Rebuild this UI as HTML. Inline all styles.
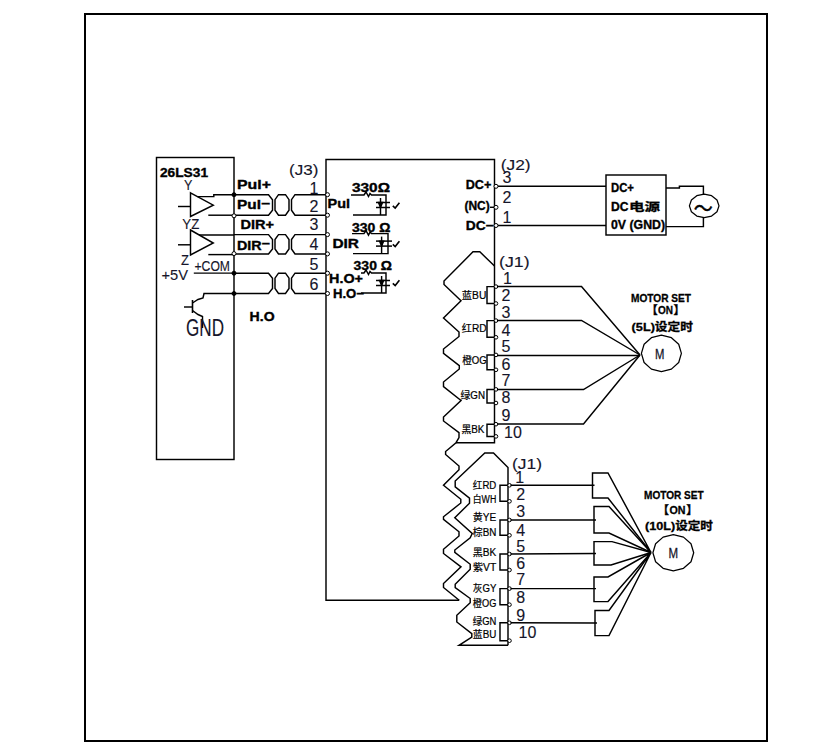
<!DOCTYPE html>
<html lang="zh"><head><meta charset="utf-8"><title>Wiring diagram</title>
<style>
html,body{margin:0;padding:0;background:#fff;}
body{width:840px;height:750px;overflow:hidden;}
svg{display:block;font-family:"Liberation Sans","Noto Sans CJK SC",sans-serif;}
</style></head><body>
<svg width="840" height="750" viewBox="0 0 840 750" fill="none" stroke="#000" stroke-linejoin="miter" stroke-linecap="butt">
<rect x="0" y="0" width="840" height="750" fill="#fff" stroke="none"/>
<rect x="85" y="14" width="682" height="727" stroke-width="2"/>
<rect x="156.5" y="157.5" width="77.5" height="302" stroke-width="1.45"/>
<path d="M459.2,600.2 L326,600.2 L326,159.5 L494.5,159.5 L494.5,442.7 L456,442.7" stroke-width="1.45" />
<path d="M494.5,266 L479.8,251.8 L473,251.8 L444,281 L444,284.5 L461,300.7 L443.5,318 L459,332 L459,336.5 L443.5,349 L443.5,353.3 L459.3,365.6 L459.3,369 L443.5,382 L443.5,386.6 L461,400.5 L443.5,417 L443.5,421 L459,432.7 L459,437.5 L456,442.7 L445.6,451.5 L445.6,454.5 L459,466 L459,469.7 L443.5,485.2 L460.8,499.3 L460.8,503 L443.5,516.8 L443.5,519.3 L459,531.8 L459,536 L443.5,549.3 L443.5,553.5 L461,566.8 L443.5,583.5 L443.5,587.5 L459.2,600.2" stroke-width="1.45" />
<path d="M508,645.3 L508,467.5 L493.5,453 L484.8,453 L455.2,481 L455.2,486.8 L469.5,498.2 L469.5,503.2 L454.8,517.7 L472.2,533.5 L470.2,537.7 L454.8,550 L454.8,552.3 L470.2,564.3 L470.2,569.3 L455.2,584.3 L455.2,587.7 L470.2,598.5 L470.2,602.8 L456.8,615.3 L456.8,622 L471.8,633.7 L471.8,637 L459,645.3 L508,645.3" stroke-width="1.45" />
<path d="M190.5,192.8 L213.3,205.2 L190.5,216.5 Z" stroke-width="1.45" />
<path d="M190.5,230 L213.3,243 L190.5,255 Z" stroke-width="1.45" />
<path d="M178,206.5 L190.5,206.5" stroke-width="1.45" />
<path d="M178,244.8 L190.5,244.8" stroke-width="1.45" />
<path d="M197.5,196.6 L213.8,196.6 L213.8,194.7 L234,194.7" stroke-width="1.45" />
<path d="M208.3,215.2 L234,215.2" stroke-width="1.45" />
<path d="M199,235 L234,235" stroke-width="1.45" />
<path d="M208.3,254.6 L234,254.6" stroke-width="1.45" />
<path d="M193.8,273.1 L234,273.1" stroke-width="1.45" />
<path d="M234,293.5 L204,293.5 L203,298 L198,299.5 L192.5,303" stroke-width="1.45" />
<path d="M192.5,300 L192.5,313" stroke-width="1.6" />
<path d="M184,307 L192.5,307" stroke-width="1.45" />
<path d="M192.5,310.5 L198,314.5 L202.5,316.5 L202.5,328" stroke-width="1.45" />
<path d="M234,194.7 L268.5,194.7 L272.5,199.7 L272.5,210.2 L268.5,215.2 L234,215.2" stroke-width="1.45" />
<path d="M278.5,194.7 L285.5,194.7 L289,199.7 L289,210.2 L285.5,215.2 L278.5,215.2 L275,210.2 L275,199.7 Z" stroke-width="1.45" />
<path d="M326,194.7 L295,194.7 L291.5,199.7 L291.5,210.2 L295,215.2 L326,215.2" stroke-width="1.45" />
<path d="M234,234.6 L268.5,234.6 L272.5,239.6 L272.5,248.9 L268.5,253.9 L234,253.9" stroke-width="1.45" />
<path d="M278.5,234.6 L285.5,234.6 L289,239.6 L289,248.9 L285.5,253.9 L278.5,253.9 L275,248.9 L275,239.6 Z" stroke-width="1.45" />
<path d="M326,234.6 L295,234.6 L291.5,239.6 L291.5,248.9 L295,253.9 L326,253.9" stroke-width="1.45" />
<path d="M234,273.2 L268.5,273.2 L272.5,278.2 L272.5,288.5 L268.5,293.5 L234,293.5" stroke-width="1.45" />
<path d="M278.5,273.2 L285.5,273.2 L289,278.2 L289,288.5 L285.5,293.5 L278.5,293.5 L275,288.5 L275,278.2 Z" stroke-width="1.45" />
<path d="M326,273.2 L295,273.2 L291.5,278.2 L291.5,288.5 L295,293.5 L326,293.5" stroke-width="1.45" />
<circle cx="234" cy="194.7" r="2" fill="#000" stroke-width="1"/>
<circle cx="234" cy="215.8" r="2" fill="#fff" stroke-width="1"/>
<circle cx="234" cy="253.6" r="2" fill="#fff" stroke-width="1"/>
<circle cx="234" cy="273.2" r="2" fill="#000" stroke-width="1"/>
<circle cx="234" cy="293.5" r="2" fill="#000" stroke-width="1"/>
<circle cx="327.5" cy="194.7" r="2" fill="#fff" stroke-width="1"/>
<circle cx="327.5" cy="215.2" r="2" fill="#fff" stroke-width="1"/>
<circle cx="327.5" cy="234.6" r="2" fill="#fff" stroke-width="1"/>
<circle cx="327.5" cy="253.9" r="2" fill="#fff" stroke-width="1"/>
<circle cx="327.5" cy="273.2" r="2" fill="#fff" stroke-width="1"/>
<circle cx="327.5" cy="293.5" r="2" fill="#fff" stroke-width="1"/>
<path d="M351,195 L364,195 L366,192 L368.5,196.5 L370,193.5 L371.5,195 L386,195 L386,215 L353,215" stroke-width="1.45" />
<path d="M380.5,198 L380.5,215" stroke-width="1.45" />
<path d="M376,202.5 L390,202.5" stroke-width="1.5" />
<path d="M376,207.5 L390,207.5" stroke-width="1.5" />
<path d="M378.5,202.5 L382.5,202.5 L380.5,207.5 Z" stroke-width="1.45" fill="#000"/>
<path d="M392.8,205.8 L395.2,208 L399.4,202.8" stroke-width="1.6" />
<path d="M352,233.6 L364,233.6 L366,230.6 L368.5,235.1 L370,232.1 L371.5,233.6 L388,233.6 L388,253.6 L353,253.6" stroke-width="1.45" />
<path d="M381.6,236.6 L381.6,253.6" stroke-width="1.45" />
<path d="M376,241.1 L392,241.1" stroke-width="1.5" />
<path d="M376,246.1 L392,246.1" stroke-width="1.5" />
<path d="M379.6,241.1 L383.6,241.1 L381.6,246.1 Z" stroke-width="1.45" fill="#000"/>
<path d="M392.8,244.3 L395.2,246.5 L399.4,241.3" stroke-width="1.6" />
<path d="M361,273 L364,273 L366,270 L368.5,274.5 L370,271.5 L371.5,273 L386,273 L386,293 L361,293" stroke-width="1.45" />
<path d="M381.6,276 L381.6,293" stroke-width="1.45" />
<path d="M376,280.5 L390,280.5" stroke-width="1.5" />
<path d="M376,285.5 L390,285.5" stroke-width="1.5" />
<path d="M379.6,280.5 L383.6,280.5 L381.6,285.5 Z" stroke-width="1.45" fill="#000"/>
<path d="M392.8,283.3 L395.2,285.5 L399.4,280.3" stroke-width="1.6" />
<path d="M496,186.3 L606,186.3" stroke-width="1.45" />
<path d="M496,225.5 L606,225.5" stroke-width="1.45" />
<rect x="606" y="175" width="60" height="60" stroke-width="1.45"/>
<path d="M666,188 L679.4,188 L679.4,186.2 L703.4,186.2 L703.4,194.5" stroke-width="1.45" />
<path d="M666,226.6 L703.4,226.6 L703.4,217.5" stroke-width="1.45" />
<path d="M704.2,194.1 L711.6,195.7 L717.0,200.0 L719.0,205.9 L717.0,211.8 L711.6,216.1 L704.2,217.7 L696.8,216.1 L691.4,211.8 L689.4,205.9 L691.4,200.0 L696.8,195.7 Z" stroke-width="1.25" stroke-linejoin="round"/>
<circle cx="496" cy="186.3" r="2" fill="#fff" stroke-width="1"/>
<circle cx="496" cy="207.3" r="2" fill="#fff" stroke-width="1"/>
<circle cx="496" cy="225.5" r="2" fill="#fff" stroke-width="1"/>
<path d="M490,207.3 L494,207.3" stroke-width="1.45" />
<path d="M494.5,286.6 L487,286.6 L487,303.5 L494.5,303.5" stroke-width="1.45" />
<circle cx="496" cy="286.6" r="1.8" fill="#fff" stroke-width="1"/>
<circle cx="496" cy="303.5" r="1.8" fill="#fff" stroke-width="1"/>
<path d="M494.5,320.6 L487,320.6 L487,337.3 L494.5,337.3" stroke-width="1.45" />
<circle cx="496" cy="320.6" r="1.8" fill="#fff" stroke-width="1"/>
<circle cx="496" cy="337.3" r="1.8" fill="#fff" stroke-width="1"/>
<path d="M494.5,354.9 L487,354.9 L487,369.8 L494.5,369.8" stroke-width="1.45" />
<circle cx="496" cy="354.9" r="1.8" fill="#fff" stroke-width="1"/>
<circle cx="496" cy="369.8" r="1.8" fill="#fff" stroke-width="1"/>
<path d="M494.5,389.4 L487,389.4 L487,403 L494.5,403" stroke-width="1.45" />
<circle cx="496" cy="389.4" r="1.8" fill="#fff" stroke-width="1"/>
<circle cx="496" cy="403" r="1.8" fill="#fff" stroke-width="1"/>
<path d="M494.5,424.2 L487,424.2 L487,436.4 L494.5,436.4" stroke-width="1.45" />
<circle cx="496" cy="424.2" r="1.8" fill="#fff" stroke-width="1"/>
<circle cx="496" cy="436.4" r="1.8" fill="#fff" stroke-width="1"/>
<path d="M497,286.5 L581.5,286.5 L640,355" stroke-width="1.45" />
<path d="M497,320.5 L581.5,320.5 L640,355" stroke-width="1.45" />
<path d="M497,355.5 L640,355.5" stroke-width="1.45" />
<path d="M497,389.5 L583.5,389.5 L640,355" stroke-width="1.45" />
<path d="M497,424 L583.5,424 L640,355" stroke-width="1.45" />
<path d="M661.4,335.2 L671.4,337.7 L678.7,344.3 L681.4,353.4 L678.7,362.5 L671.4,369.1 L661.4,371.6 L651.4,369.1 L644.1,362.5 L641.4,353.4 L644.1,344.3 L651.4,337.7 Z" stroke-width="1.25" stroke-linejoin="round"/>
<path d="M508,485.3 L500,485.3 L500,501.3 L508,501.3" stroke-width="1.45" />
<circle cx="509.5" cy="485.3" r="1.8" fill="#fff" stroke-width="1"/>
<circle cx="509.5" cy="501.3" r="1.8" fill="#fff" stroke-width="1"/>
<path d="M508,520 L500,520 L500,535.3 L508,535.3" stroke-width="1.45" />
<circle cx="509.5" cy="520" r="1.8" fill="#fff" stroke-width="1"/>
<circle cx="509.5" cy="535.3" r="1.8" fill="#fff" stroke-width="1"/>
<path d="M508,554 L500,554 L500,570 L508,570" stroke-width="1.45" />
<circle cx="509.5" cy="554" r="1.8" fill="#fff" stroke-width="1"/>
<circle cx="509.5" cy="570" r="1.8" fill="#fff" stroke-width="1"/>
<path d="M508,588.6 L500,588.6 L500,604.7 L508,604.7" stroke-width="1.45" />
<circle cx="509.5" cy="588.6" r="1.8" fill="#fff" stroke-width="1"/>
<circle cx="509.5" cy="604.7" r="1.8" fill="#fff" stroke-width="1"/>
<path d="M508,622.8 L500,622.8 L500,640.7 L508,640.7" stroke-width="1.45" />
<circle cx="509.5" cy="622.8" r="1.8" fill="#fff" stroke-width="1"/>
<circle cx="509.5" cy="640.7" r="1.8" fill="#fff" stroke-width="1"/>
<path d="M510.5,485.3 L594.5,485.3" stroke-width="1.45" />
<path d="M651,552.5 L608,473 L592.5,473 L592.5,498 L608,498 L651,552.5" stroke-width="1.45" />
<path d="M510.5,520 L596,520" stroke-width="1.45" />
<path d="M651,552.5 L609,506.5 L594,506.5 L594,533 L609,533 L651,552.5" stroke-width="1.45" />
<path d="M510.5,554 L596,553.5" stroke-width="1.45" />
<path d="M651,552.5 L612,541.6 L594,541.6 L594,565 L611,565 L651,552.5" stroke-width="1.45" />
<path d="M510.5,588.6 L596,588.6" stroke-width="1.45" />
<path d="M651,552.5 L608,577 L594,577 L594,601.6 L608,601.6 L651,552.5" stroke-width="1.45" />
<path d="M510.5,622.8 L597,623" stroke-width="1.45" />
<path d="M651,552.5 L609,610.4 L595,610.4 L595,635.6 L609,635.6 L651,552.5" stroke-width="1.45" />
<path d="M673.3,534.6 L683.5,537.1 L691.0,543.7 L693.7,552.7 L691.0,561.7 L683.5,568.3 L673.3,570.8 L663.1,568.3 L655.6,561.7 L652.9,552.7 L655.6,543.7 L663.1,537.1 Z" stroke-width="1.25" stroke-linejoin="round"/>
<g stroke="none">
<text x="160" y="177" font-size="12.5" font-weight="bold" textLength="48" lengthAdjust="spacingAndGlyphs" fill="#000" stroke="#000" stroke-width="0.35">26LS31</text>
<text x="237" y="189" font-size="12.5" font-weight="bold" textLength="34" lengthAdjust="spacingAndGlyphs" fill="#000" stroke="#000" stroke-width="0.35">Pul+</text>
<text x="237" y="209" font-size="12.5" font-weight="bold" textLength="33" lengthAdjust="spacingAndGlyphs" fill="#000" stroke="#000" stroke-width="0.35">Pul<tspan dy="-1.5">−</tspan></text>
<text x="240.4" y="229" font-size="12.5" font-weight="bold" textLength="33.6" lengthAdjust="spacingAndGlyphs" fill="#000" stroke="#000" stroke-width="0.35">DIR+</text>
<text x="237" y="249.6" font-size="12.5" font-weight="bold" textLength="33" lengthAdjust="spacingAndGlyphs" fill="#000" stroke="#000" stroke-width="0.35">DIR<tspan dy="-1.5">−</tspan></text>
<text x="249.6" y="321" font-size="12.5" font-weight="bold" textLength="25" lengthAdjust="spacingAndGlyphs" fill="#000" stroke="#000" stroke-width="0.35">H.O</text>
<text x="352" y="192.4" font-size="12.5" font-weight="bold" textLength="38" lengthAdjust="spacingAndGlyphs" fill="#000" stroke="#000" stroke-width="0.35">330Ω</text>
<text x="352" y="232" font-size="12.5" font-weight="bold" textLength="38.4" lengthAdjust="spacingAndGlyphs" fill="#000" stroke="#000" stroke-width="0.35">330 Ω</text>
<text x="353.6" y="270" font-size="12.5" font-weight="bold" textLength="38.4" lengthAdjust="spacingAndGlyphs" fill="#000" stroke="#000" stroke-width="0.35">330 Ω</text>
<text x="327.5" y="208" font-size="12.5" font-weight="bold" textLength="22.5" lengthAdjust="spacingAndGlyphs" fill="#000" stroke="#000" stroke-width="0.35">Pul</text>
<text x="332.4" y="247.6" font-size="12.5" font-weight="bold" textLength="26.6" lengthAdjust="spacingAndGlyphs" fill="#000" stroke="#000" stroke-width="0.35">DIR</text>
<text x="329" y="283" font-size="12.5" font-weight="bold" textLength="34" lengthAdjust="spacingAndGlyphs" fill="#000" stroke="#000" stroke-width="0.35">H.O+</text>
<text x="333" y="298" font-size="12.5" font-weight="bold" textLength="31" lengthAdjust="spacingAndGlyphs" fill="#000" stroke="#000" stroke-width="0.35">H.O−</text>
<text x="465.7" y="188.7" font-size="12.5" font-weight="bold" textLength="25.6" lengthAdjust="spacingAndGlyphs" fill="#000" stroke="#000" stroke-width="0.35">DC+</text>
<text x="464.4" y="210" font-size="12.5" font-weight="bold" textLength="25.3" lengthAdjust="spacingAndGlyphs" fill="#000" stroke="#000" stroke-width="0.35">(NC)</text>
<text x="465.7" y="230.4" font-size="12.5" font-weight="bold" textLength="28" lengthAdjust="spacingAndGlyphs" fill="#000" stroke="#000" stroke-width="0.35">DC−</text>
<text x="611" y="192" font-size="12.5" font-weight="bold" textLength="23" lengthAdjust="spacingAndGlyphs" fill="#000" stroke="#000" stroke-width="0.35">DC+</text>
<text x="611" y="210.5" font-size="12.5" font-weight="bold" textLength="17.5" lengthAdjust="spacingAndGlyphs" fill="#000" stroke="#000" stroke-width="0.35">DC</text>
<text x="629" y="210.6" font-size="11" font-weight="bold" textLength="31" lengthAdjust="spacingAndGlyphs" fill="#000" stroke="#000" stroke-width="0.3">电源</text>
<text x="611" y="229" font-size="12.5" font-weight="bold" textLength="54" lengthAdjust="spacingAndGlyphs" fill="#000" stroke="#000" stroke-width="0.35">0V (GND)</text>
<text x="631" y="301.6" font-size="11.5" font-weight="bold" textLength="60" lengthAdjust="spacingAndGlyphs" fill="#000" stroke="#000" stroke-width="0.3">MOTOR SET</text>
<text x="646.3" y="313.5" font-size="11.5" font-weight="bold" fill="#000" stroke="#000" stroke-width="0.3">【</text>
<text x="658" y="313.5" font-size="11.5" font-weight="bold" textLength="15" lengthAdjust="spacingAndGlyphs" fill="#000" stroke="#000" stroke-width="0.3">ON</text>
<text x="673.6" y="313.5" font-size="11.5" font-weight="bold" fill="#000" stroke="#000" stroke-width="0.3">】</text>
<text x="631.6" y="330.5" font-size="11.5" font-weight="bold" textLength="61.4" lengthAdjust="spacingAndGlyphs" fill="#000" stroke="#000" stroke-width="0.3">(5L)设定时</text>
<text x="644" y="499" font-size="11.5" font-weight="bold" textLength="59.6" lengthAdjust="spacingAndGlyphs" fill="#000" stroke="#000" stroke-width="0.3">MOTOR SET</text>
<text x="657.5" y="513.5" font-size="11.5" font-weight="bold" fill="#000" stroke="#000" stroke-width="0.3">【</text>
<text x="669.5" y="513.5" font-size="11.5" font-weight="bold" textLength="16" lengthAdjust="spacingAndGlyphs" fill="#000" stroke="#000" stroke-width="0.3">ON</text>
<text x="686.3" y="513.5" font-size="11.5" font-weight="bold" fill="#000" stroke="#000" stroke-width="0.3">】</text>
<text x="645" y="530" font-size="11.5" font-weight="bold" textLength="68" lengthAdjust="spacingAndGlyphs" fill="#000" stroke="#000" stroke-width="0.3">(10L)设定时</text>
<text transform="matrix(1 0 0 1.15 693.7 215.5)" x="0" y="0" font-size="19" font-family="Noto Sans CJK SC" fill="#000" stroke="#000" stroke-width="0.45">～</text>
<text x="184" y="190" font-size="14.5" textLength="8.4" lengthAdjust="spacingAndGlyphs" fill="#15152a" stroke="#15152a" stroke-width="0.12">Y</text>
<text x="182.3" y="229" font-size="15.3" textLength="17" lengthAdjust="spacingAndGlyphs" fill="#15152a" stroke="#15152a" stroke-width="0.12">YZ</text>
<text x="181" y="265.3" font-size="15" textLength="8" lengthAdjust="spacingAndGlyphs" fill="#15152a" stroke="#15152a" stroke-width="0.12">Z</text>
<text x="161.5" y="279.6" font-size="15" textLength="26.5" lengthAdjust="spacingAndGlyphs" fill="#15152a" stroke="#15152a" stroke-width="0.12">+5V</text>
<text x="194.5" y="270.6" font-size="15.2" textLength="35.5" lengthAdjust="spacingAndGlyphs" fill="#15152a" stroke="#15152a" stroke-width="0.12">+COM</text>
<text x="186" y="336.4" font-size="23.5" textLength="38" lengthAdjust="spacingAndGlyphs" fill="#15152a" stroke="#15152a" stroke-width="0.12">GND</text>
<text x="289" y="174.6" font-size="15" textLength="29.4" lengthAdjust="spacingAndGlyphs" fill="#15152a" stroke="#15152a" stroke-width="0.12">(J3)</text>
<text x="309.5" y="193.75" font-size="16" fill="#15152a" stroke="#15152a" stroke-width="0.12">1</text>
<text x="309.5" y="211.6" font-size="16" fill="#15152a" stroke="#15152a" stroke-width="0.12">2</text>
<text x="309.5" y="230.4" font-size="16" fill="#15152a" stroke="#15152a" stroke-width="0.12">3</text>
<text x="309.5" y="250" font-size="16" fill="#15152a" stroke="#15152a" stroke-width="0.12">4</text>
<text x="309.5" y="270.4" font-size="16" fill="#15152a" stroke="#15152a" stroke-width="0.12">5</text>
<text x="309.5" y="290.4" font-size="16" fill="#15152a" stroke="#15152a" stroke-width="0.12">6</text>
<text x="500.7" y="170" font-size="15" textLength="30" lengthAdjust="spacingAndGlyphs" fill="#15152a" stroke="#15152a" stroke-width="0.12">(J2)</text>
<text x="502.5" y="183.3" font-size="16" fill="#15152a" stroke="#15152a" stroke-width="0.12">3</text>
<text x="502.5" y="203.3" font-size="16" fill="#15152a" stroke="#15152a" stroke-width="0.12">2</text>
<text x="502.5" y="223.3" font-size="16" fill="#15152a" stroke="#15152a" stroke-width="0.12">1</text>
<text x="499" y="267" font-size="15" textLength="30.6" lengthAdjust="spacingAndGlyphs" fill="#15152a" stroke="#15152a" stroke-width="0.12">(J1)</text>
<text x="503" y="284" font-size="16" fill="#15152a" stroke="#15152a" stroke-width="0.12">1</text>
<text x="501.5" y="301" font-size="16" fill="#15152a" stroke="#15152a" stroke-width="0.12">2</text>
<text x="501.5" y="318" font-size="16" fill="#15152a" stroke="#15152a" stroke-width="0.12">3</text>
<text x="501.5" y="335.6" font-size="16" fill="#15152a" stroke="#15152a" stroke-width="0.12">4</text>
<text x="501.5" y="352.4" font-size="16" fill="#15152a" stroke="#15152a" stroke-width="0.12">5</text>
<text x="501.5" y="369.6" font-size="16" fill="#15152a" stroke="#15152a" stroke-width="0.12">6</text>
<text x="501.5" y="386" font-size="16" fill="#15152a" stroke="#15152a" stroke-width="0.12">7</text>
<text x="501.5" y="403" font-size="16" fill="#15152a" stroke="#15152a" stroke-width="0.12">8</text>
<text x="501.5" y="421" font-size="16" fill="#15152a" stroke="#15152a" stroke-width="0.12">9</text>
<text x="504" y="438" font-size="16" fill="#15152a" stroke="#15152a" stroke-width="0.12">10</text>
<text x="512" y="469" font-size="15" textLength="30" lengthAdjust="spacingAndGlyphs" fill="#15152a" stroke="#15152a" stroke-width="0.12">(J1)</text>
<text x="515.2" y="483.3" font-size="16" fill="#15152a" stroke="#15152a" stroke-width="0.12">1</text>
<text x="516.2" y="500" font-size="16" fill="#15152a" stroke="#15152a" stroke-width="0.12">2</text>
<text x="516.2" y="517.3" font-size="16" fill="#15152a" stroke="#15152a" stroke-width="0.12">3</text>
<text x="516.2" y="536" font-size="16" fill="#15152a" stroke="#15152a" stroke-width="0.12">4</text>
<text x="516.2" y="552" font-size="16" fill="#15152a" stroke="#15152a" stroke-width="0.12">5</text>
<text x="516.2" y="568.7" font-size="16" fill="#15152a" stroke="#15152a" stroke-width="0.12">6</text>
<text x="516.2" y="585.3" font-size="16" fill="#15152a" stroke="#15152a" stroke-width="0.12">7</text>
<text x="516.2" y="602.7" font-size="16" fill="#15152a" stroke="#15152a" stroke-width="0.12">8</text>
<text x="516.2" y="620.7" font-size="16" fill="#15152a" stroke="#15152a" stroke-width="0.12">9</text>
<text x="518.5" y="638" font-size="16" fill="#15152a" stroke="#15152a" stroke-width="0.12">10</text>
<text x="655" y="359.3" font-size="15" textLength="9.4" lengthAdjust="spacingAndGlyphs" fill="#15152a" stroke="#15152a" stroke-width="0.3">M</text>
<text x="668.4" y="557.6" font-size="15.5" textLength="9.6" lengthAdjust="spacingAndGlyphs" fill="#15152a" stroke="#15152a" stroke-width="0.3">M</text>
<text x="461.8" y="298.6" font-size="10" textLength="24.5" lengthAdjust="spacingAndGlyphs" fill="#000" stroke="#000" stroke-width="0.2">蓝BU</text>
<text x="461.8" y="331.6" font-size="10" textLength="24.8" lengthAdjust="spacingAndGlyphs" fill="#000" stroke="#000" stroke-width="0.2">红RD</text>
<text x="462.2" y="363.6" font-size="10" textLength="24.5" lengthAdjust="spacingAndGlyphs" fill="#000" stroke="#000" stroke-width="0.2">橙OG</text>
<text x="460.5" y="399.2" font-size="10" textLength="24.5" lengthAdjust="spacingAndGlyphs" fill="#000" stroke="#000" stroke-width="0.2">绿GN</text>
<text x="461.4" y="433.2" font-size="10" textLength="23" lengthAdjust="spacingAndGlyphs" fill="#000" stroke="#000" stroke-width="0.2">黑BK</text>
<text x="472.8" y="488.8" font-size="10" textLength="23.5" lengthAdjust="spacingAndGlyphs" fill="#000" stroke="#000" stroke-width="0.2">红RD</text>
<text x="472.8" y="502.8" font-size="10" textLength="23.5" lengthAdjust="spacingAndGlyphs" fill="#000" stroke="#000" stroke-width="0.2">白WH</text>
<text x="472.8" y="521.2" font-size="10" textLength="23.5" lengthAdjust="spacingAndGlyphs" fill="#000" stroke="#000" stroke-width="0.2">黄YE</text>
<text x="472.8" y="536" font-size="10" textLength="23.5" lengthAdjust="spacingAndGlyphs" fill="#000" stroke="#000" stroke-width="0.2">棕BN</text>
<text x="472.8" y="555.5" font-size="10" textLength="23.5" lengthAdjust="spacingAndGlyphs" fill="#000" stroke="#000" stroke-width="0.2">黑BK</text>
<text x="472.8" y="571.4" font-size="10" textLength="23.5" lengthAdjust="spacingAndGlyphs" fill="#000" stroke="#000" stroke-width="0.2">紫VT</text>
<text x="472.8" y="591.8" font-size="10" textLength="23.5" lengthAdjust="spacingAndGlyphs" fill="#000" stroke="#000" stroke-width="0.2">灰GY</text>
<text x="472.8" y="606.8" font-size="10" textLength="23.5" lengthAdjust="spacingAndGlyphs" fill="#000" stroke="#000" stroke-width="0.2">橙OG</text>
<text x="472.8" y="625.3" font-size="10" textLength="23.5" lengthAdjust="spacingAndGlyphs" fill="#000" stroke="#000" stroke-width="0.2">绿GN</text>
<text x="472.8" y="638.3" font-size="10" textLength="23.5" lengthAdjust="spacingAndGlyphs" fill="#000" stroke="#000" stroke-width="0.2">蓝BU</text>
</g>
</svg>
</body></html>
